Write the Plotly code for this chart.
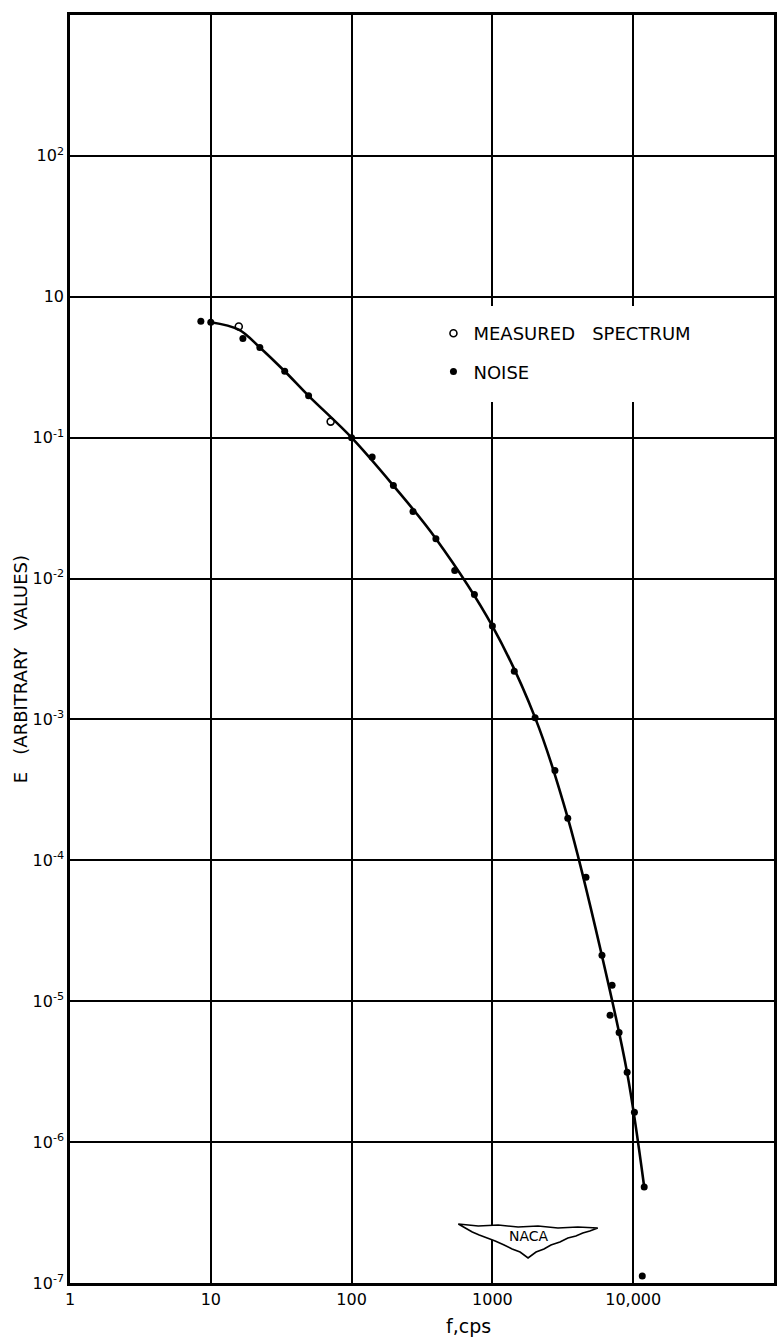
import plotly.graph_objects as go

# ---- data (frequency in cps, spectral energy E in arbitrary units) ----
measured_f = [15.8, 71.0]
measured_E = [0.615, 0.130]

noise_f = [8.5, 10.0, 16.9, 22.3, 33.5, 49.5, 100.0, 140.0, 198.0, 273.0, 397.0,
           540.0, 745.0, 1000.0, 1430.0, 2010.0, 2780.0, 3430.0, 4620.0, 6000.0,
           7080.0, 6850.0, 7940.0, 9060.0, 10200.0, 11970.0, 11600.0]
noise_E = [0.67, 0.66, 0.506, 0.437, 0.296, 0.198, 0.100, 0.073, 0.0457, 0.0299,
           0.0192, 0.0114, 0.0077, 0.0046, 0.0022, 0.00103, 4.35e-4, 1.99e-4,
           7.6e-5, 2.12e-5, 1.30e-5, 7.96e-6, 6.0e-6, 3.13e-6, 1.63e-6, 4.8e-7,
           1.12e-7]

# faired curve through the spectrum
curve_f = [10.0, 15.8, 22.3, 33.5, 49.5, 100.0, 198.0, 397.0, 1000.0, 2010.0,
           3430.0, 6000.0, 9060.0, 11970.0]
curve_E = [0.66, 0.585, 0.437, 0.296, 0.198, 0.100, 0.0457, 0.0192, 0.0046,
           0.00103, 2.0e-4, 2.1e-5, 3.1e-6, 4.8e-7]

x_tickvals = [1, 10, 100, 1000, 10000]
x_ticktext = ["1", "10", "100", "1000", "10,000"]
y_tickvals = [1e-7, 1e-6, 1e-5, 1e-4, 1e-3, 1e-2, 1e-1, 1, 10]
y_ticktext = ["10<sup>-7</sup>", "10<sup>-6</sup>", "10<sup>-5</sup>", "10<sup>-4</sup>",
              "10<sup>-3</sup>", "10<sup>-2</sup>", "10<sup>-1</sup>", "10", "10<sup>2</sup>"]

# ---- page geometry ----
W, H = 780, 1343
ML, MR, MT, MB = 70, 3, 15, 60
PW, PH = W - ML - MR, H - MT - MB


def px(x):
    return (x - ML) / PW


def py(y):
    return (H - MB - y) / PH


FONT = "DejaVu Sans"
NB = "\u00a0"

fig = go.Figure()

fig.add_trace(go.Scatter(
    x=curve_f, y=curve_E, mode="lines", line=dict(color="black", width=2.6, shape="spline"),
    showlegend=False, hoverinfo="skip"))

fig.add_trace(go.Scatter(
    x=measured_f, y=measured_E, mode="markers", name=f"MEASURED{NB * 3}SPECTRUM",
    legendgroup="m",
    marker=dict(symbol="circle-open", size=7, color="black", line=dict(width=1.6))))

fig.add_trace(go.Scatter(
    x=noise_f, y=noise_E, mode="markers", name="NOISE", legendgroup="n",
    marker=dict(symbol="circle", size=7, color="black")))

axis_common = dict(
    type="log", showline=True, linecolor="black", linewidth=2.5, mirror=True,
    showgrid=True, gridcolor="black", zeroline=False, ticks="",
    tickfont=dict(family=FONT, size=16, color="black"),
)
fig.update_xaxes(range=[0, 5], tickvals=x_tickvals, ticktext=x_ticktext,
                 gridwidth=2, **axis_common)
fig.update_yaxes(range=[-7, 2], tickvals=y_tickvals, ticktext=y_ticktext,
                 gridwidth=1.7, **axis_common)

# white panel behind the legend, breaking the grid there
fig.add_shape(type="rect", xref="paper", yref="paper",
              x0=px(440), x1=px(725), y0=py(402), y1=py(306),
              fillcolor="white", line=dict(width=0), layer="above")

# NACA wing emblem
wing = [(460, 1224), (480, 1226), (500, 1225), (520, 1227), (540, 1226), (560, 1228),
        (580, 1227), (600, 1228), (592, 1231), (585, 1233), (578, 1236), (570, 1238),
        (562, 1242), (553, 1245), (546, 1249), (538, 1252), (530, 1258), (522, 1252),
        (514, 1249), (506, 1245), (497, 1241), (489, 1238), (481, 1235), (474, 1232),
        (467, 1228)]
path = "M " + " L ".join(f"{px(a):.5f},{py(b):.5f}" for a, b in wing) + " Z"
fig.add_shape(type="path", xref="paper", yref="paper", path=path,
              fillcolor="white", line=dict(color="black", width=1.6), layer="above")
fig.add_annotation(x=px(531), y=py(1236), xref="paper", yref="paper", text="NACA",
                   xanchor="center", yanchor="middle", showarrow=False,
                   font=dict(family=FONT, size=14, color="black"))

# axis titles
fig.add_annotation(x=px(470), y=py(1326), xref="paper", yref="paper", text="f,cps",
                   xanchor="center", yanchor="middle", showarrow=False,
                   font=dict(family=FONT, size=19, color="black"))
fig.add_annotation(x=px(20), y=py(669), xref="paper", yref="paper",
                   text=f"E{NB * 3}(ARBITRARY{NB * 3}VALUES)", textangle=-90,
                   xanchor="center", yanchor="middle", showarrow=False,
                   font=dict(family=FONT, size=18, color="black"))

fig.update_layout(
    width=W, height=H, margin=dict(l=ML, r=MR, t=MT, b=MB),
    paper_bgcolor="white", plot_bgcolor="white",
    legend=dict(x=px(435), y=py(315), xanchor="left", yanchor="top",
                bgcolor="rgba(255,255,255,0)", borderwidth=0, tracegroupgap=12,
                font=dict(family=FONT, size=18, color="black")),
)

fig.write_html("out.html")
